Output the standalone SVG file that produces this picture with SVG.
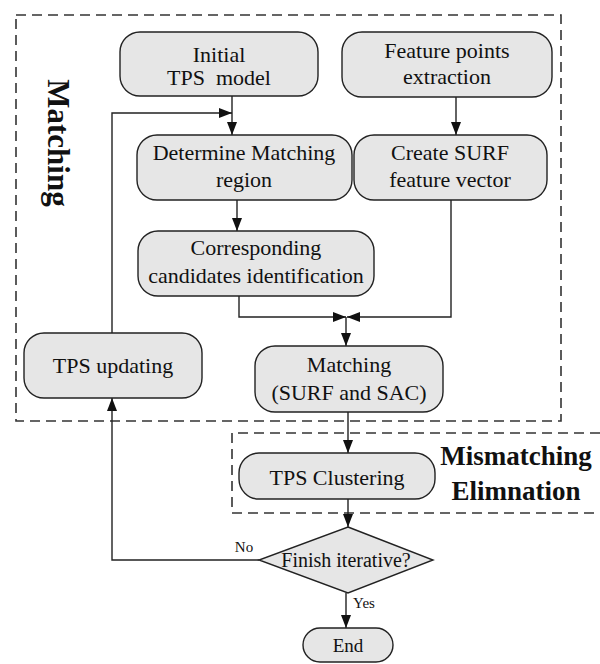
<svg xmlns="http://www.w3.org/2000/svg" width="600" height="664" viewBox="0 0 600 664">
<style>
.box{fill:#e6e6e6;stroke:#222;stroke-width:1.4}
.t{font-family:"Liberation Serif","Times New Roman",serif;font-size:22px;fill:#111;text-anchor:middle}
.s{font-size:15px}
.b{font-weight:bold}
.dash{fill:none;stroke:#333;stroke-width:1.6;stroke-dasharray:10 6}
.c{fill:none;stroke:#222;stroke-width:1.4}
</style>
<defs>
<marker id="ah" viewBox="0 0 13 10" refX="13" refY="5" markerWidth="13" markerHeight="10" markerUnits="userSpaceOnUse" orient="auto">
<path d="M0,0 L13,5 L0,10 Z" fill="#111"/>
</marker>
</defs>
<rect x="0" y="0" width="600" height="664" fill="#fff"/>

<g id="matching-region">
<rect class="dash" x="16" y="15" width="545" height="406"/>
<text class="t b" style="font-size:31px" transform="translate(48,143) rotate(90)">Matching</text>
</g>
<g id="mismatching-region">
<path class="dash" d="M600,433 H232 V513 H600"/>
<text class="t b" style="font-size:27px" x="516" y="465">Mismatching</text>
<text class="t b" style="font-size:27px" x="516" y="500">Elimnation</text>
</g>

<g id="connectors">
<line class="c" x1="232" y1="96" x2="232" y2="135" marker-end="url(#ah)"/>
<line class="c" x1="456" y1="97" x2="456" y2="135" marker-end="url(#ah)"/>
<line class="c" x1="237" y1="200" x2="237" y2="231" marker-end="url(#ah)"/>
<polyline class="c" points="239,296 239,317 346,317" marker-end="url(#ah)"/>
<polyline class="c" points="451,200 451,317 347,317" marker-end="url(#ah)"/>
<line class="c" x1="346" y1="317" x2="346" y2="346" marker-end="url(#ah)"/>
<line class="c" x1="348" y1="412" x2="348" y2="453" marker-end="url(#ah)"/>
<line class="c" x1="348" y1="499" x2="348" y2="527" marker-end="url(#ah)"/>
<line class="c" x1="346" y1="593" x2="346" y2="628" marker-end="url(#ah)"/>
<polyline class="c" points="259,560 112,560 112,398" marker-end="url(#ah)"/>
<polyline class="c" points="112,333 112,113 232,113" marker-end="url(#ah)"/>
<text class="t s" x="244" y="552">No</text>
<text class="t s" x="364" y="608">Yes</text>
</g>

<g id="initial">
<rect class="box" x="120" y="32" width="198" height="64" rx="20"/>
<text class="t" x="219" y="62">Initial</text>
<text class="t" x="219" y="85" xml:space="preserve">TPS  model</text>
</g>
<g id="feature-points">
<rect class="box" x="342" y="32" width="210" height="65" rx="20"/>
<text class="t" x="447" y="58">Feature points</text>
<text class="t" x="447" y="84">extraction</text>
</g>
<g id="determine">
<rect class="box" x="137" y="135" width="215" height="65" rx="20"/>
<text class="t" x="244" y="160">Determine Matching</text>
<text class="t" x="244" y="187">region</text>
</g>
<g id="create-surf">
<rect class="box" x="354" y="135" width="193" height="65" rx="20"/>
<text class="t" x="450" y="160">Create SURF</text>
<text class="t" x="450" y="187">feature vector</text>
</g>
<g id="corresponding">
<rect class="box" x="138" y="231" width="236" height="65" rx="20"/>
<text class="t" x="256" y="255">Corresponding</text>
<text class="t" x="256" y="283">candidates identification</text>
</g>
<g id="tps-updating">
<rect class="box" x="24" y="333" width="178" height="65" rx="20"/>
<text class="t" x="113" y="373">TPS updating</text>
</g>
<g id="matching-surf-sac">
<rect class="box" x="255" y="346" width="188" height="66" rx="20"/>
<text class="t" x="349" y="372">Matching</text>
<text class="t" x="349" y="400">(SURF and SAC)</text>
</g>
<g id="tps-clustering">
<rect class="box" x="239" y="453" width="196" height="46" rx="20"/>
<text class="t" x="337" y="485">TPS Clustering</text>
</g>
<g id="finish">
<polygon class="box" points="348,527 433,560 348,593 259,560"/>
<text class="t" style="font-size:20px" x="346" y="567">Finish iterative?</text>
</g>
<g id="end">
<rect class="box" x="303" y="628" width="90" height="34" rx="17"/>
<text class="t" style="font-size:19px" x="348" y="652">End</text>
</g>
</svg>
